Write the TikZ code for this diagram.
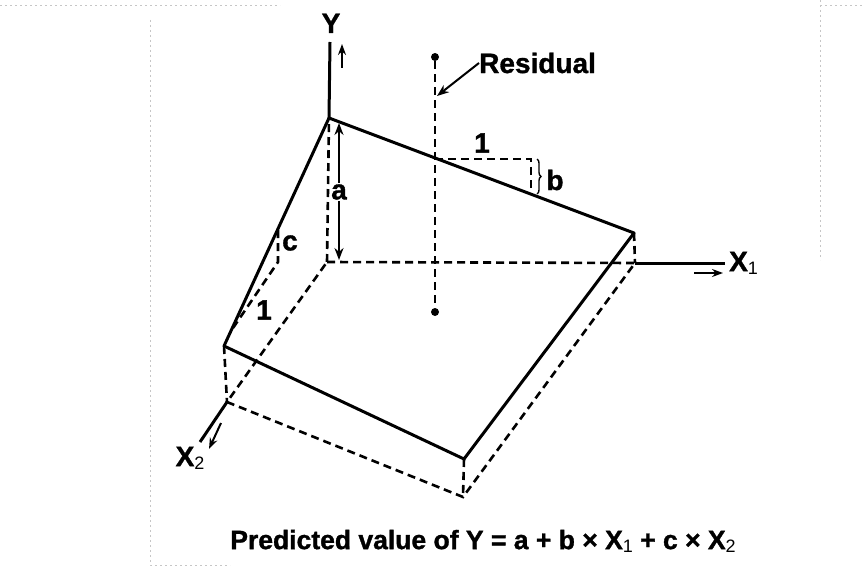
\documentclass[tikz,border=0pt]{standalone}
\usepackage{fontspec}
\setmainfont{Liberation Sans}[BoldFeatures={FakeBold=1.2}]
\usetikzlibrary{arrows.meta,decorations.pathreplacing}
\newcommand{\sbx}[1]{\raisebox{-3pt}{\fontsize{18}{19}\selectfont\mdseries #1}}
\begin{document}
\begin{tikzpicture}[x=1pt,y=-1pt,
 solidln/.style={line width=3pt},
 dashln/.style={line width=2.6pt, dash pattern=on 8pt off 5pt},
 smallarrow/.style={line width=2pt,-{Stealth[length=11pt,width=8pt]}},
 lbl/.style={font=\bfseries\fontsize{28}{30}\selectfont, inner sep=0pt},
 eqlbl/.style={font=\bfseries\fontsize{26.5}{28}\selectfont, inner sep=0pt},
 dot/.style={circle, fill, inner sep=0pt, minimum size=8pt},
 faint/.style={gray!45, line width=0.5pt, dash pattern=on 2pt off 3pt}]
\useasboundingbox (0,0) rectangle (862,567);
% faint scan frame
\coordinate (f1) at (0,5); \coordinate (f2) at (280,5);
\coordinate (f3) at (150,20); \coordinate (f4) at (150,565);
\coordinate (f5) at (230,565); \coordinate (f6) at (820,0);
\coordinate (f7) at (820,260); \coordinate (f8) at (862,5);
\draw[faint] (f1) -- (f2);
\draw[faint] (f3) -- (f4) -- (f5);
\draw[faint] (f6) -- (f7);
\draw[faint] (f6 |- f8) -- (f8);
% corners
\coordinate (T) at (329,118);
\coordinate (R) at (634,233);
\coordinate (L) at (224,346);
\coordinate (F) at (464,459);
\coordinate (O) at (327,262);
\coordinate (BR) at (635,263);
\coordinate (BL) at (227,402);
\coordinate (BF) at (463,497);
\coordinate (Yend) at (330,42);
\coordinate (X1end) at (725,263);
\coordinate (X2end) at (200,442);
% dashed hidden edges
\draw[dashln] (O) -- (T);
\draw[dashln] (O) -- (BR) -- (BF) -- (BL) -- cycle;
\draw[dashln] (L) -- (BL);
\draw[dashln] (F) -- (BF);
\draw[dashln] (R) -- (BR);
% top surface
\draw[solidln, line join=round] (T) -- (R) -- (F) -- (L) -- cycle;
% axes
\draw[solidln] (T) -- (Yend);
\draw[solidln] (BR) -- (X1end);
\draw[solidln] (BL) -- (X2end);
% axis arrows
\coordinate (ya1) at (342,68); \coordinate (ya2) at (342,44);
\coordinate (xa1) at (694,273); \coordinate (xa2) at (723,273);
\coordinate (za1) at (221,423); \coordinate (za2) at (209,449);
\draw[smallarrow] (ya1) -- (ya2);
\draw[smallarrow] (xa1) -- (xa2);
\draw[smallarrow] (za1) -- (za2);
% labels of axes
\node[lbl, anchor=base] (Ylab) at (331,33) {Y};
\node[lbl, anchor=west] (X1lab) at (729,263) {X\sbx{1}};
\node[lbl] (X2lab) at (190,458) {X\sbx{2}};
% residual
\node[dot] (rtop) at (435,57) {};
\node[dot] (rbot) at (435,312) {};
\draw[dashln] (rtop) -- (rbot);
\node[lbl, anchor=west] (reslab) at (479,63) {Residual};
\coordinate (resa) at (437,96);
\draw[line width=2pt,-{Stealth[length=12pt,width=9pt]}] (reslab.west) -- (resa);
% slope b
\coordinate (b1) at (435,159); \coordinate (b2) at (531,159); \coordinate (b3) at (531,194);
\draw[dashln] (b1) -- (b2) -- (b3);
\coordinate (br1) at (537,159); \coordinate (br2) at (537,194);
\draw[line width=1.4pt, decorate, decoration={brace, amplitude=4pt}] (br1) -- (br2);
\node[lbl] (one1) at (482,143) {1};
\node[lbl] (blab) at (555,180) {b};
% slope c
\coordinate (c1) at (278,230); \coordinate (c2) at (278,262); \coordinate (c3) at (233,328);
\draw[dashln] (c1) -- (c2) -- (c3);
\node[lbl] (clab) at (290,243) {c};
\node[lbl] (one2) at (264,310) {1};
% intercept a
\coordinate (a1) at (339,123); \coordinate (a2) at (339,260);
\draw[line width=2pt,{Stealth[length=12pt,width=9pt]}-{Stealth[length=12pt,width=9pt]}] (a1) -- (a2);
\node[lbl, fill=white, inner sep=1pt] (alab) at (339,192) {a};
% equation
\node[eqlbl] (eq) at (483,541) {Predicted value of Y = a + b × X\sbx{1} + c × X\sbx{2}};
\end{tikzpicture}
\end{document}
